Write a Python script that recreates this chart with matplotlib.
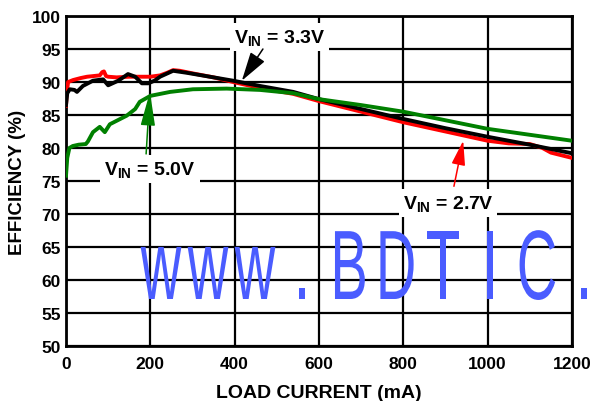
import matplotlib
matplotlib.use('Agg')
import matplotlib.pyplot as plt
from matplotlib.patheffects import AbstractPathEffect
from matplotlib.transforms import Affine2D

# ---------------- data ----------------
x_27 = [0, 2, 5, 17, 35, 50, 65, 80, 86, 90, 95, 100, 120, 150, 180, 200, 223, 240,
        254, 270, 301, 350, 396, 460, 539, 600, 700, 800, 900, 1000, 1050, 1100, 1130,
        1150, 1200]
y_27 = [86.4, 88.5, 90.0, 90.3, 90.6, 90.8, 90.9, 91.0, 91.5, 91.6, 90.9, 90.8, 90.7,
        90.8, 90.8, 90.8, 91.0, 91.4, 91.8, 91.7, 91.3, 90.7, 90.0, 89.1, 88.2, 87.1,
        85.5, 83.9, 82.5, 81.1, 80.7, 80.6, 80.0, 79.3, 78.5]

x_33 = [0, 3, 9, 20, 26, 40, 64, 88, 100, 124, 147, 164, 180, 195, 210, 223, 254, 286,
        341, 396, 460, 539, 600, 700, 800, 900, 1000, 1100, 1200]
y_33 = [86.5, 88.3, 88.9, 88.8, 88.5, 89.4, 90.2, 90.4, 89.5, 90.2, 91.2, 90.8, 89.8,
        89.8, 90.2, 90.8, 91.7, 91.4, 90.8, 90.2, 89.4, 88.5, 87.4, 85.9, 84.4, 83.0,
        81.7, 80.5, 79.2]

x_50 = [0, 3, 8, 16, 30, 47, 52, 64, 80, 92, 104, 144, 164, 175, 200, 247, 301, 381,
        460, 539, 600, 700, 800, 900, 1000, 1100, 1200]
y_50 = [75.8, 78.5, 80.0, 80.3, 80.5, 80.6, 81.0, 82.4, 83.2, 82.4, 83.6, 84.9, 85.9,
        87.0, 87.9, 88.5, 88.9, 89.0, 88.8, 88.3, 87.4, 86.5, 85.5, 84.2, 82.9, 82.0,
        81.1]

x_ticks = [0, 200, 400, 600, 800, 1000, 1200]
y_ticks = [50, 55, 60, 65, 70, 75, 80, 85, 90, 95, 100]
x_label = 'LOAD CURRENT (mA)'
y_label = 'EFFICIENCY (%)'
lbl_27 = r'$\mathbf{V_{IN}}$ = 2.7V'
lbl_33 = r'$\mathbf{V_{IN}}$ = 3.3V'
lbl_50 = r'$\mathbf{V_{IN}}$ = 5.0V'
watermark = 'www.BDTIC.'

# ---------------- style ----------------
plt.rcParams['font.family'] = ['Liberation Sans', 'DejaVu Sans']
plt.rcParams['font.weight'] = 'bold'
plt.rcParams['axes.labelweight'] = 'bold'
plt.rcParams['mathtext.fontset'] = 'custom'
plt.rcParams['mathtext.rm'] = 'Liberation Sans:bold'
plt.rcParams['mathtext.bf'] = 'Liberation Sans:bold'
plt.rcParams['mathtext.it'] = 'Liberation Sans:bold'


class Stretch(AbstractPathEffect):
    """Scale glyphs around their horizontal centre / baseline (keeps text as text)."""
    def __init__(self, sx=1.0, sy=1.0):
        super().__init__()
        self.sx, self.sy = sx, sy

    def draw_path(self, renderer, gc, tpath, affine, rgbFace=None):
        ext = tpath.get_extents()
        cx = (ext.x0 + ext.x1) / 2
        t = Affine2D().translate(-cx, 0).scale(self.sx, self.sy).translate(cx, 0) + affine
        renderer.draw_path(gc, tpath, t, rgbFace)


fig = plt.figure(figsize=(5.95, 4.02), dpi=100)
ax = fig.add_axes([66 / 595, 1 - 347 / 402, 506 / 595, 330 / 402])

ax.set_xlim(0, 1200)
ax.set_ylim(50, 100)
ax.set_xticks(x_ticks)
ax.set_yticks(y_ticks)
ax.grid(True, color='black', lw=1.6, zorder=1.5)
ax.set_axisbelow(True)
for s in ax.spines.values():
    s.set_linewidth(2)
ax.tick_params(length=0, labelsize=12.5)
ax.tick_params(axis='x', pad=7.5)
ax.tick_params(axis='y', pad=4)
ax.set_xlabel(x_label, fontsize=14, labelpad=9)
ax.set_ylabel(y_label, fontsize=13.5, labelpad=4)

# watermark (behind grid): tall, narrow glyphs
pitch = 47 / 595
for i, ch in enumerate(watermark):
    ax.text(161 / 595 + i * pitch, 1 - 300 / 402, ch, transform=fig.transFigure,
            ha='center', va='baseline', fontsize=40, fontweight='normal',
            color='#4a5cff', zorder=0.8, clip_on=False,
            path_effects=[Stretch(1.01, 1.775)])

ax.plot(x_27, y_27, color='#ff0000', lw=2.8, zorder=3, solid_joinstyle='round')
ax.plot(x_33, y_33, color='black', lw=2.8, zorder=3.1, solid_joinstyle='round')
ax.plot(x_50, y_50, color='#008000', lw=2.8, zorder=3.2, solid_joinstyle='round')

box = dict(facecolor='white', edgecolor='none', pad=3)

ax.text(506, 96.8, lbl_33, fontsize=14, ha='center', va='center', bbox=box, zorder=5)
ax.annotate('', xy=(417, 90.2), xytext=(467, 95.0),
            arrowprops=dict(arrowstyle='-|>,head_length=1.2,head_width=0.35',
                            color='black', lw=1.1, shrinkA=0, shrinkB=0,
                            mutation_scale=15), zorder=6)

ax.text(199, 76.8, lbl_50, fontsize=14, ha='center', va='center', bbox=box, zorder=5)
ax.annotate('', xy=(199, 88.5), xytext=(190, 79.1),
            arrowprops=dict(arrowstyle='-|>,head_length=1.4,head_width=0.3',
                            color='#008000', lw=1.1, shrinkA=0, shrinkB=0,
                            mutation_scale=15), zorder=6)

ax.text(906, 71.7, lbl_27, fontsize=14, ha='center', va='center', bbox=box, zorder=5)
ax.annotate('', xy=(942, 81.1), xytext=(920, 74.2),
            arrowprops=dict(arrowstyle='-|>,head_length=1.0,head_width=0.28',
                            color='#ff0000', lw=1.1, shrinkA=0, shrinkB=0,
                            mutation_scale=15), zorder=6)

fig.savefig('out.png', dpi=100)
